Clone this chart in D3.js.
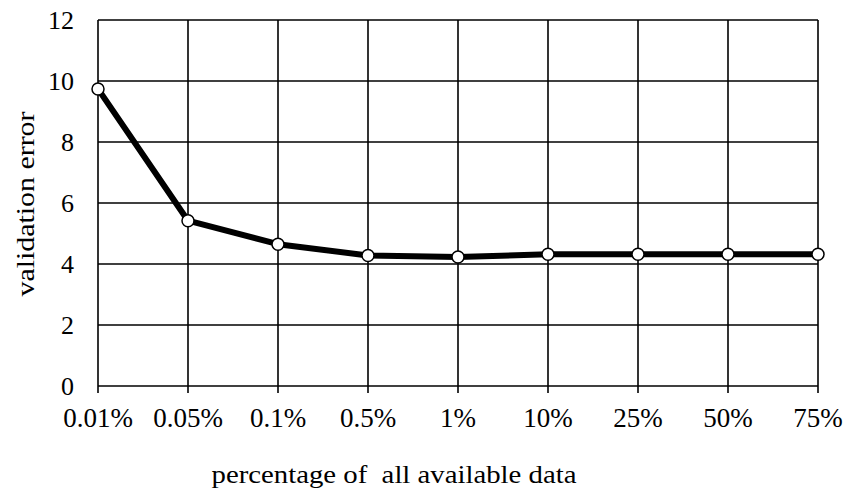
<!DOCTYPE html>
<html>
<head>
<meta charset="utf-8">
<script src="https://cdn.jsdelivr.net/npm/d3@7"></script>
<style>
  html, body { margin: 0; padding: 0; background: #fff; }
  svg { display: block; }
  text { font-family: "Liberation Serif", "Times New Roman", serif; fill: #000; }
</style>
</head>
<body>
<script>
const categories = ["0.01%", "0.05%", "0.1%", "0.5%", "1%", "10%", "25%", "50%", "75%"];
const errorValues = [9.74, 5.42, 4.65, 4.28, 4.23, 4.32, 4.32, 4.32, 4.32];
const yTicks = [0, 2, 4, 6, 8, 10, 12];
const xTitle = "percentage of  all available data";
const yTitle = "validation error";

const W = 850, H = 493;
const m = { left: 98, right: 32, top: 20, bottom: 107 };

const svg = d3.select("body").append("svg").attr("width", W).attr("height", H);

const x = d3.scalePoint().domain(categories).range([m.left, W - m.right]);
const y = d3.scaleLinear().domain([0, 12]).range([H - m.bottom, m.top]);

// horizontal gridlines
svg.append("g").selectAll("line").data(yTicks).join("line")
  .attr("x1", m.left).attr("x2", W - m.right)
  .attr("y1", d => y(d)).attr("y2", d => y(d))
  .attr("stroke", "#000").attr("stroke-width", 1.6);

// vertical gridlines (with tick marks below the axis)
svg.append("g").selectAll("line").data(categories).join("line")
  .attr("x1", d => x(d)).attr("x2", d => x(d))
  .attr("y1", m.top).attr("y2", y(0) + 7)
  .attr("stroke", "#000").attr("stroke-width", 1.6);

// y tick labels
svg.append("g").selectAll("text").data(yTicks).join("text")
  .attr("x", 74).attr("y", d => y(d))
  .attr("dy", "0.35em")
  .attr("text-anchor", "end")
  .attr("font-size", 26)
  .text(d => d);

// x tick labels
svg.append("g").selectAll("text").data(categories).join("text")
  .attr("x", d => x(d)).attr("y", 427)
  .attr("text-anchor", "middle")
  .attr("font-size", 27)
  .text(d => d);

// axis titles
svg.append("text")
  .attr("x", 394).attr("y", 483)
  .attr("text-anchor", "middle")
  .attr("font-size", 26)
  .attr("textLength", 365)
  .attr("lengthAdjust", "spacingAndGlyphs")
  .attr("xml:space", "preserve")
  .style("white-space", "pre")
  .text(xTitle);

svg.append("text")
  .attr("transform", `translate(34,204) rotate(-90)`)
  .attr("text-anchor", "middle")
  .attr("font-size", 26)
  .attr("textLength", 185)
  .attr("lengthAdjust", "spacingAndGlyphs")
  .text(yTitle);

// line
const pts = categories.map((c, i) => [x(c), y(errorValues[i])]);
svg.append("path")
  .attr("d", d3.line()(pts))
  .attr("fill", "none")
  .attr("stroke", "#000")
  .attr("stroke-width", 6)
  .attr("stroke-linejoin", "round");

// markers
svg.append("g").selectAll("circle").data(categories).join("circle")
  .attr("cx", d => x(d))
  .attr("cy", (d, i) => y(errorValues[i]))
  .attr("r", 6)
  .attr("fill", "#fff")
  .attr("stroke", "#000")
  .attr("stroke-width", 1.5);
</script>
</body>
</html>
